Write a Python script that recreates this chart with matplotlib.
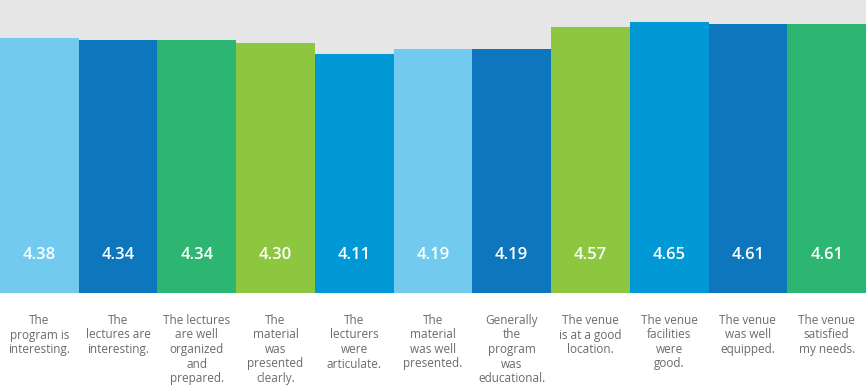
import numpy as np
import matplotlib.pyplot as plt

labels = [
    "The\nprogram is\ninteresting.",
    "The\nlectures are\ninteresting.",
    "The lectures\nare well\norganized\nand\nprepared.",
    "The\nmaterial\nwas\npresented\nclearly.",
    "The\nlecturers\nwere\narticulate.",
    "The\nmaterial\nwas well\npresented.",
    "Generally\nthe\nprogram\nwas\neducational.",
    "The venue\nis at a good\nlocation.",
    "The venue\nfacilities\nwere\ngood.",
    "The venue\nwas well\nequipped.",
    "The venue\nsatisfied\nmy needs.",
]
scores = [4.38, 4.34, 4.34, 4.30, 4.11, 4.19, 4.19, 4.57, 4.65, 4.61, 4.61]

lightblue = '#72cbee'
darkblue = '#0e76bc'
green = '#2db672'
lime = '#8dc63f'
cyan = '#0099d6'
bar_colors = [lightblue, darkblue, green, lime, cyan, lightblue, darkblue,
              lime, cyan, darkblue, green]

fig = plt.figure(figsize=(8.66, 3.87), dpi=100)
ax = fig.add_axes([0, 94 / 387, 1, 293 / 387])
ax.set_facecolor('#e6e6e6')

x = np.arange(len(scores))
ax.bar(x, scores, width=1.0, color=bar_colors, edgecolor='none')
ax.set_xlim(-0.5, len(scores) - 0.5)
ax.set_ylim(0, 5.03)
ax.set_xticks([])
ax.set_yticks([])
for s in ax.spines.values():
    s.set_visible(False)

for i, v in enumerate(scores):
    ax.annotate(f'{v:.2f}', xy=(i, 0), xytext=(0, 38), textcoords='offset pixels',
                ha='center', va='center', color='white', fontsize=12,
                fontweight='semibold', family='Open Sans')
    ax.annotate(labels[i], xy=(i, 0), xytext=(0, -21), textcoords='offset pixels',
                ha='center', va='top', color='#6b6b6b', fontsize=8.5,
                family='Open Sans', linespacing=1.15, annotation_clip=False)

fig.savefig('out.png', dpi=100, facecolor='white')
